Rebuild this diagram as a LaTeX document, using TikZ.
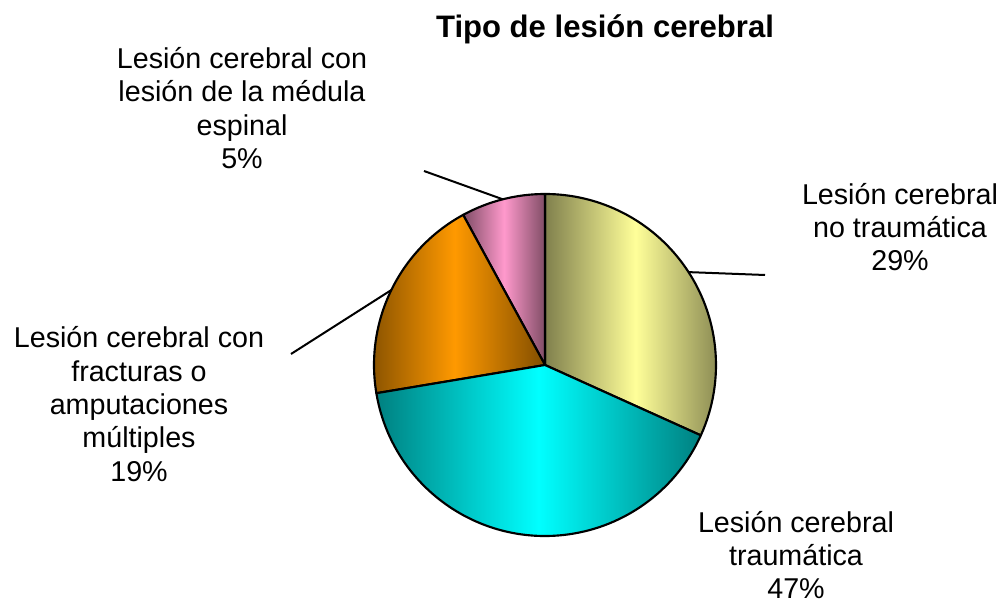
\documentclass[tikz,border=0pt]{standalone}
\usepackage{fontspec}
\setmainfont{Liberation Sans}
\usepackage{tikz}
\usetikzlibrary{calc}
\definecolor{yellowlight}{RGB}{255,255,153}
\definecolor{yellowdark}{RGB}{128,128,77}
\definecolor{cyanlight}{RGB}{0,255,255}
\definecolor{cyandark}{RGB}{0,128,128}
\definecolor{orangelight}{RGB}{255,153,0}
\definecolor{orangedark}{RGB}{128,77,0}
\definecolor{pinklight}{RGB}{255,153,204}
\definecolor{pinkdark}{RGB}{128,77,102}

\begin{document}
\begin{tikzpicture}[x=0.75pt,y=0.75pt,
        slice/.style={draw=black,line width=1.6pt,line join=round},
        leader/.style={black,line width=1.5pt},
        pielabel/.style={align=center,inner sep=0pt,font=\fontsize{21.5}{25}\selectfont}]
            \useasboundingbox (0,0) rectangle (1002,606);

            % Define the centre of the pie
            \coordinate (ctr) at (545,241);

            % Define the slice for no traumatica (yellow)
            \draw[slice,left color=yellowdark,right color=yellowdark,middle color=yellowlight]
                (ctr) -- ++(-24.3:171) arc[start angle=-24.3,end angle=90,radius=171] -- cycle;

            % Define the slice for medula espinal (pink)
            \draw[slice,left color=pinkdark,right color=pinkdark,middle color=pinklight]
                (ctr) -- ++(90:171) arc[start angle=90,end angle=118.6,radius=171] -- cycle;

            % Define the slice for fracturas (orange)
            \draw[slice,left color=orangedark,right color=orangedark,middle color=orangelight]
                (ctr) -- ++(118.6:171) arc[start angle=118.6,end angle=189.5,radius=171] -- cycle;

            % Define the slice for traumatica (cyan)
            \draw[slice,left color=cyandark,right color=cyandark,middle color=cyanlight]
                (ctr) -- ++(189.5:171) arc[start angle=189.5,end angle=335.7,radius=171] -- cycle;

            % Add the leader lines
            \coordinate (pinkedge) at ($(ctr)+(104.3:171)$);
            \coordinate (pinkend) at (424,435);
            \coordinate (yellowedge) at ($(ctr)+(32.9:171)$);
            \coordinate (yellowend) at (765,331);
            \coordinate (orangeedge) at ($(ctr)+(154:171)$);
            \coordinate (orangeend) at (291,252);
            \draw[leader] (pinkedge) -- (pinkend);
            \draw[leader] (yellowedge) -- (yellowend);
            \draw[leader] (orangeedge) -- (orangeend);

            % Add the title and the labels
            \node[font=\fontsize{23.3}{28}\selectfont\bfseries] (title) at (605,577) {Tipo de lesión cerebral};
            \node[pielabel] (pinklabel) at (242,498) {Lesión cerebral con\\lesión de la médula\\espinal\\5\%};
            \node[pielabel] (yellowlabel) at (900,379) {Lesión cerebral\\no traumática\\29\%};
            \node[pielabel] (orangelabel) at (139,202) {Lesión cerebral con\\fracturas o\\amputaciones\\múltiples\\19\%};
            \node[pielabel] (cyanlabel) at (796,51) {Lesión cerebral\\traumática\\47\%};

        \end{tikzpicture}
\end{document}
